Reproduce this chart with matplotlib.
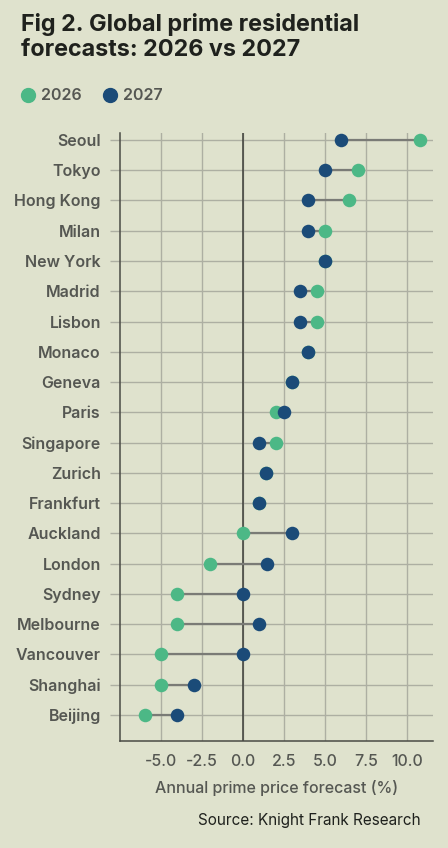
import matplotlib
matplotlib.use("Agg")
import matplotlib.pyplot as plt
from matplotlib.lines import Line2D

cities = ["Seoul", "Tokyo", "Hong Kong", "Milan", "New York", "Madrid", "Lisbon",
          "Monaco", "Geneva", "Paris", "Singapore", "Zurich", "Frankfurt",
          "Auckland", "London", "Sydney", "Melbourne", "Vancouver", "Shanghai", "Beijing"]
v2026 = [10.8, 7.0, 6.5, 5.0, 5.0, 4.5, 4.5, 4.0, 3.0, 2.0, 2.0, 1.4, 1.0,
         0.0, -2.0, -4.0, -4.0, -5.0, -5.0, -6.0]
v2027 = [6.0, 5.0, 4.0, 4.0, 5.0, 3.5, 3.5, 4.0, 3.0, 2.5, 1.0, 1.4, 1.0,
         3.0, 1.5, 0.0, 1.0, 0.0, -3.0, -4.0]
xticks = [-5.0, -2.5, 0.0, 2.5, 5.0, 7.5, 10.0]

BG = "#dfe2cd"
GREEN = "#4cb886"
NAVY = "#1b4b78"
GRID = "#adafa2"
TXT = "#555752"
FONT = ["Inter", "DejaVu Sans"]
plt.rcParams["font.family"] = FONT

fig = plt.figure(figsize=(4.48, 8.48), dpi=100, facecolor=BG)
ax = fig.add_axes([120/448, 1 - 741/848, (433-120)/448, (741-133)/848])
ax.set_facecolor(BG)

n = len(cities)
ys = list(range(n - 1, -1, -1))
for y, a, b in zip(ys, v2026, v2027):
    ax.plot([a, b], [y, y], color="#7a7b76", lw=1.6, zorder=2, solid_capstyle="butt")
ax.scatter(v2026, ys, s=95, color=GREEN, zorder=3, linewidths=0)
ax.scatter(v2027, ys, s=95, color=NAVY, zorder=4, linewidths=0)

ax.set_xlim(-7.5, 11.6)
ax.set_ylim(-0.86, n - 1 + 0.23)
ax.set_xticks(xticks)
ax.set_xticklabels([f"{t:.1f}" for t in xticks], fontsize=11.5, color=TXT, fontweight="medium")
ax.set_yticks(ys)
ax.set_yticklabels(cities, fontsize=11.5, color=TXT, fontweight="semibold")
ax.tick_params(axis="y", length=7.2, color=GRID, width=1, pad=6.5)
ax.tick_params(axis="x", length=0, pad=9)
ax.grid(True, color=GRID, lw=1, zorder=0)
ax.set_axisbelow(True)
ax.axvline(0, color="#3c3d38", lw=1.1, zorder=1)
for s in ["top", "right"]:
    ax.spines[s].set_visible(False)
for s in ["left", "bottom"]:
    ax.spines[s].set_color("#4a4b45")
    ax.spines[s].set_linewidth(1.1)
ax.set_xlabel("Annual prime price forecast (%)", fontsize=11.5, color=TXT, labelpad=8,
              fontweight="medium")

fig.text(21/448, 1 - 13/848, "Fig 2. Global prime residential\nforecasts: 2026 vs 2027",
         fontsize=16.8, fontweight="bold", color="#1f211d", va="top", ha="left",
         linespacing=1.15)

handles = [Line2D([], [], marker="o", ls="", color=GREEN, markersize=10, label="2026"),
           Line2D([], [], marker="o", ls="", color=NAVY, markersize=10, label="2027")]
leg = fig.legend(handles=handles, loc="center left", bbox_to_anchor=(12/448, 1 - 96/848),
                 ncol=2, frameon=False, fontsize=11.5, handletextpad=0.2, columnspacing=1.2,
                 labelcolor=TXT, borderaxespad=0, handlelength=1.2)
for t in leg.get_texts():
    t.set_fontweight("semibold")

fig.text(421/448, 1 - 820/848, "Source: Knight Frank Research", fontsize=11,
         color="#1f211d", ha="right", va="center")

fig.savefig("out.png", dpi=100, facecolor=BG)
